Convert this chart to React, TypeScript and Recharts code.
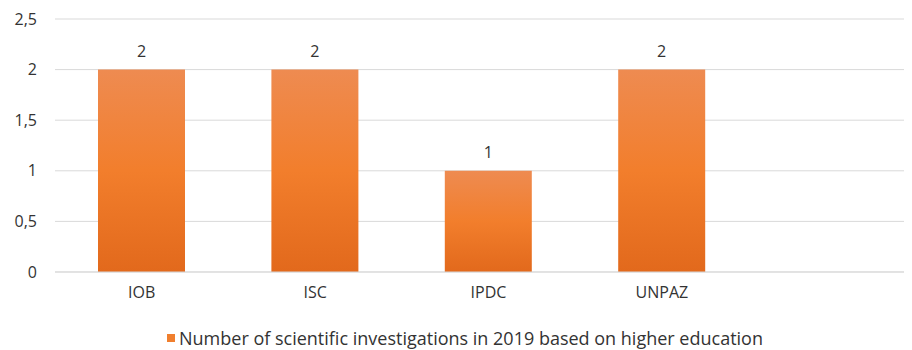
import React from 'react';
import { BarChart, Bar, XAxis, YAxis, CartesianGrid, Legend, LabelList } from 'recharts';

const categories = ['IOB', 'ISC', 'IPDC', 'UNPAZ', ''];
const investigations = [2, 2, 1, 2, null];
const yTicks = [0, 0.5, 1, 1.5, 2, 2.5];
const seriesName = 'Number of scientific investigations in 2019 based on higher education';

const chartData = categories.map((name, i) => ({ name, value: investigations[i] }));

const font = '"Open Sans", "Noto Sans", sans-serif';
const textColor = '#333333';

const renderLegend = () => (
    <div style={{ display: 'flex', justifyContent: 'center', alignItems: 'center', height: 20, lineHeight: '20px', fontFamily: font, fontSize: 18, color: textColor }}>
        <span style={{ width: 8, height: 8, background: '#F07F2E', marginRight: 4, display: 'inline-block' }} />
        <span>{seriesName}</span>
    </div>
);

// the plot runs past the right edge in the reference, so the chart is wider than its box
const App: React.FC = () => {
    return (
        <div style={{ width: 904, height: 342, overflow: 'hidden', background: '#fff' }}>
            <BarChart
                width={914}
                height={342}
                data={chartData}
                margin={{ top: 11, right: 0, left: 0, bottom: 0 }}
            >
                <defs>
                    <linearGradient id="barFill" x1="0" y1="0" x2="0" y2="1">
                        <stop offset="0%" stopColor="#EE8B51" />
                        <stop offset="50%" stopColor="#F27E2C" />
                        <stop offset="100%" stopColor="#E2691C" />
                    </linearGradient>
                </defs>
                <CartesianGrid vertical={false} stroke="#d9d9d9" />
                <XAxis
                    dataKey="name"
                    height={58}
                    axisLine={{ stroke: '#d9d9d9' }}
                    tickLine={false}
                    tickSize={0}
                    tickMargin={15}
                    tick={{ fill: textColor, fontSize: 16, fontFamily: font }}
                />
                <YAxis
                    width={47}
                    domain={[0, 2.5]}
                    ticks={yTicks}
                    axisLine={false}
                    tickLine={false}
                    tickSize={0}
                    tickMargin={18}
                    tickFormatter={(v: number) => String(v).replace('.', ',')}
                    tick={{ fill: textColor, fontSize: 16, fontFamily: font }}
                />
                <Legend verticalAlign="bottom" content={renderLegend} wrapperStyle={{ top: 320, bottom: 'auto', height: 20 }} />
                <Bar dataKey="value" name={seriesName} fill="url(#barFill)" barSize={87} isAnimationActive={false}>
                    <LabelList dataKey="value" position="top" offset={13} fill={textColor} fontSize={16} fontFamily={font} />
                </Bar>
            </BarChart>
        </div>
    );
};

export default App;
